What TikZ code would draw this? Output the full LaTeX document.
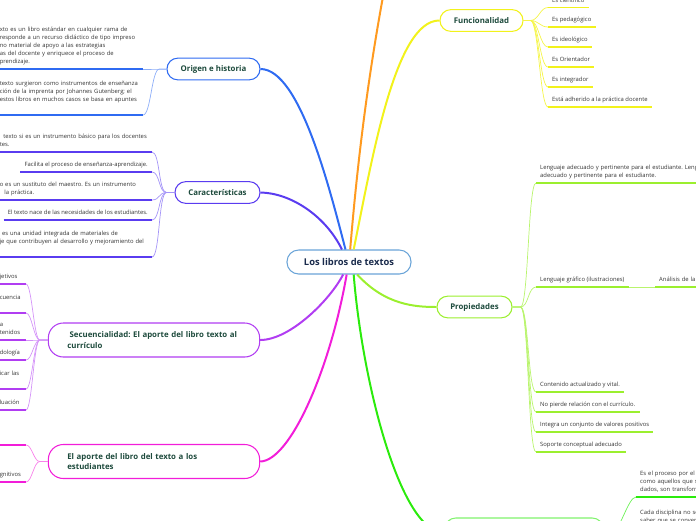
\documentclass[tikz,border=0pt]{standalone}
\usepackage{fontspec}
\setmainfont{Open Sans}
\usepackage{tikz}
\definecolor{cOrange}{HTML}{FF9A1F}
\definecolor{cYellow}{HTML}{F2F21B}
\definecolor{cBlue}{HTML}{2F6BF2}
\definecolor{cViolet}{HTML}{5A3CF0}
\definecolor{cPurple}{HTML}{B13DF2}
\definecolor{cMagenta}{HTML}{F21DD9}
\definecolor{cGreen}{HTML}{2BEB0C}
\definecolor{cLime}{HTML}{9BEF2E}
\definecolor{hubline}{HTML}{6AA4D8}
\definecolor{hubtext}{HTML}{1A2B4C}
\definecolor{topictext}{HTML}{1D4A3C}
\definecolor{leaftext}{HTML}{333333}
\newcommand{\leaffont}{\fontsize{5}{6.8}\selectfont}
\tikzstyle{hub}=[draw=hubline,fill=white,line width=0.9pt,rounded corners=0.35cm,minimum width=3.72cm,minimum height=0.72cm,inner sep=0pt,text=hubtext,font=\fontsize{8}{9.5}\selectfont\bfseries]
\tikzstyle{topic}=[draw,fill=white,line width=0.9pt,rounded corners=0.32cm,minimum height=0.65cm,inner sep=0pt,text=topictext,font=\fontsize{6.7}{8.7}\selectfont\bfseries]
\tikzstyle{bigtopic}=[topic,rounded corners=0.45cm,minimum height=1.02cm,text width=5.2cm,inner xsep=0.57cm,align=left]
\tikzstyle{leaf}=[inner xsep=0.12cm,inner ysep=2.4pt,align=left,text=leaftext,font=\leaffont,execute at end node=\strut]
\tikzstyle{lleaf}=[leaf,anchor=south east]
\tikzstyle{rleaf}=[leaf,anchor=south west]
\tikzstyle{trunk}=[line width=1.7pt]
\tikzstyle{twig}=[line width=0.6pt]
\tikzstyle{uline}=[line width=1.5pt]

\begin{document}
\frenchspacing
\begin{tikzpicture}[x=0.03cm,y=-0.03cm]
      \useasboundingbox (0,0) rectangle (696,520);
      \node[hub] (hub) at (349,262) {Los libros de textos};
      \node[topic,draw=cBlue,minimum width=2.79cm] (origen) at (213.5,69) {Origen e historia};
      \node[topic,draw=cViolet,minimum width=2.55cm] (carac) at (217.5,192.5) {Características};
      \node[bigtopic,draw=cPurple] (secu) at (154,340) {\hspace*{2pt}Secuencialidad: El aporte del libro texto al\\currículo};
      \node[bigtopic,draw=cMagenta] (aporte) at (154,461.5) {El aporte del libro del texto a los\\estudiantes};
      \node[topic,draw=cYellow,minimum width=2.49cm] (func) at (481.5,20.5) {Funcionalidad};
      \node[topic,draw=cLime,minimum width=2.25cm] (prop) at (474.5,307) {Propiedades};
      \node[topic,draw=cGreen!60,minimum width=4.74cm,minimum height=0.9cm] (otro) at (524,533) {};
      \coordinate (arriba) at (390,-40);

      \node[lleaf,text width=4.17cm] (o1) at (143,69) {xto es un libro estándar en cualquier rama de\\responde a un recurso didáctico de tipo impreso\\no material de apoyo a las estrategias\\as del docente y enriquece el proceso de\\prendizaje.};
      \node[lleaf,text width=4.17cm] (o2) at (143,115) {texto surgieron como instrumentos de enseñanza\\ción de la imprenta por Johannes Gutenberg; el\\estos libros en muchos casos se basa en apuntes\\\mbox{}};

      \node[lleaf,text width=4.44cm] (c1) at (152,152) {\hspace*{3pt}texto si es un instrumento básico para los docentes\\tes.};
      \node[lleaf] (c2) at (152,172) {Facilita el proceso de enseñanza-aprendizaje.};
      \node[lleaf,text width=4.44cm] (c3) at (152,200) {o es un sustituto del maestro. Es un instrumento\\\hspace*{4pt}la práctica.};
      \node[lleaf] (c4) at (152,220) {El texto nace de las necesidades de los estudiantes.};
      \node[lleaf,text width=4.44cm] (c5) at (152,257) {\hspace*{2pt}es una unidad integrada de materiales de\\je que contribuyen al desarrollo y mejoramiento del\\\mbox{}};

      \node[lleaf,text width=0.66cm] (s1) at (26,284) {jetivos};
      \node[lleaf,text width=0.66cm] (s2) at (26,313) {cuencia\\\mbox{}};
      \node[lleaf,text width=0.66cm] (s3) at (26,340) {a\\tenidos};
      \node[lleaf,text width=0.66cm] (s4) at (26,360) {dología};
      \node[lleaf,text width=0.66cm] (s5) at (26,389) {icar las\\\mbox{}};
      \node[lleaf,text width=0.66cm] (s6) at (26,410) {luación};

      \node[lleaf,text width=0.66cm] (m1) at (26,445) {\mbox{}};
      \node[lleaf,text width=0.66cm] (m2) at (26,482) {gnitivos};

      \node[rleaf] (f1) at (548,7.5) {Es científico};
      \node[rleaf] (f2) at (548,27) {Es pedagógico};
      \node[rleaf] (f3) at (548,47) {Es ideológico};
      \node[rleaf] (f4) at (548,67) {Es Orientador};
      \node[rleaf] (f5) at (548,87) {Es integrador};
      \node[rleaf] (f6) at (548,107) {Está adherido a la práctica docente};

      \node[rleaf,text width=6cm] (p1) at (536,183) {Lenguaje adecuado y pertinente para el estudiante. Leng\\adecuado y pertinente para el estudiante.};
      \node[rleaf] (p2) at (536,287) {Lenguaje gráfico (ilustraciones)};
      \node[rleaf,text width=3cm] (p2a) at (655,287) {Análisis de la};
      \node[rleaf] (p3) at (536,392) {Contenido actualizado y vital.};
      \node[rleaf] (p4) at (536,412) {No pierde relación con el currículo.};
      \node[rleaf] (p5) at (536,432) {Integra un conjunto de valores positivos};
      \node[rleaf] (p6) at (536,452) {Soporte conceptual adecuado};

      \node[rleaf,text width=3cm] (g1) at (636,497) {Es el proceso por el\\como aquellos que s\\dados, son transform};
      \node[rleaf,text width=3cm] (g2) at (636,528) {Cada disciplina no se\\saber que se conver};

      \draw[trunk,cBlue] ([xshift=-3pt]hub.north) .. controls (330,190) and (300,69) .. (origen.east);
      \draw[trunk,cViolet] ([xshift=-6pt]hub.north) .. controls (325,215) and (290,193) .. (carac.east);
      \draw[trunk,cOrange] ([xshift=1pt]hub.north) .. controls (356,180) and (366,80) .. (arriba);
      \draw[trunk,cYellow] ([xshift=4pt]hub.north) .. controls (372,160) and (395,20) .. (func.west);
      \draw[trunk,cPurple] ([xshift=-5pt]hub.south) .. controls (330,300) and (290,340) .. (secu.east);
      \draw[trunk,cMagenta] ([xshift=-2pt]hub.south) .. controls (330,370) and (290,461) .. (aporte.east);
      \draw[trunk,cGreen] ([xshift=4pt]hub.south) .. controls (362,380) and (400,533) .. (otro.west);
      \draw[trunk,cLime] ([xshift=7pt]hub.south) .. controls (385,305) and (415,307) .. (prop.west);

      \foreach \n in {o1,o2} \draw[twig,cBlue!55] (origen.west) -- ++(-7,0) .. controls +(-8,0) and +(8,0) .. (\n.south east);
      \foreach \n in {c1,c2,c3,c4,c5} \draw[twig,cViolet!55] (carac.west) -- ++(-8,0) .. controls +(-8,0) and +(8,0) .. (\n.south east);
      \foreach \n in {s1,s2,s3,s4,s5,s6} \draw[twig,cPurple!55] (secu.west) -- ++(-8,0) .. controls +(-6,0) and +(6,0) .. (\n.south east);
      \foreach \n in {m1,m2} \draw[twig,cMagenta!55] (aporte.west) -- ++(-8,0) .. controls +(-6,0) and +(6,0) .. (\n.south east);
      \foreach \n in {f1,f2,f3,f4,f5,f6} \draw[twig,cYellow!80] (func.east) -- ++(7,0) .. controls +(8,0) and +(-8,0) .. (\n.south west);
      \foreach \n in {p1,p2,p3,p4,p5,p6} \draw[twig,cLime!70] (prop.east) -- ++(8,0) .. controls +(8,0) and +(-8,0) .. (\n.south west);
      \foreach \n in {g1,g2} \draw[twig,cGreen!70] (otro.east) -- ++(8,0) .. controls +(8,0) and +(-8,0) .. (\n.south west);
      \draw[twig,cLime!70] (p2.south east) -- (p2a.south west);

      \foreach \n in {o1,o2} \draw[uline,cBlue] (\n.south west) -- (\n.south east);
      \foreach \n in {c1,c2,c3,c4,c5} \draw[uline,cViolet] (\n.south west) -- (\n.south east);
      \foreach \n in {s1,s2,s3,s4,s5,s6} \draw[uline,cPurple] (\n.south west) -- (\n.south east);
      \foreach \n in {m1,m2} \draw[uline,cMagenta] (\n.south west) -- (\n.south east);
      \foreach \n in {f1,f2,f3,f4,f5,f6} \draw[uline,cYellow] (\n.south west) -- (\n.south east);
      \foreach \n in {p1,p2,p2a,p3,p4,p5,p6} \draw[uline,cLime] (\n.south west) -- (\n.south east);
      \foreach \n in {g1,g2} \draw[uline,cGreen] (\n.south west) -- (\n.south east);
  \end{tikzpicture}
\end{document}
